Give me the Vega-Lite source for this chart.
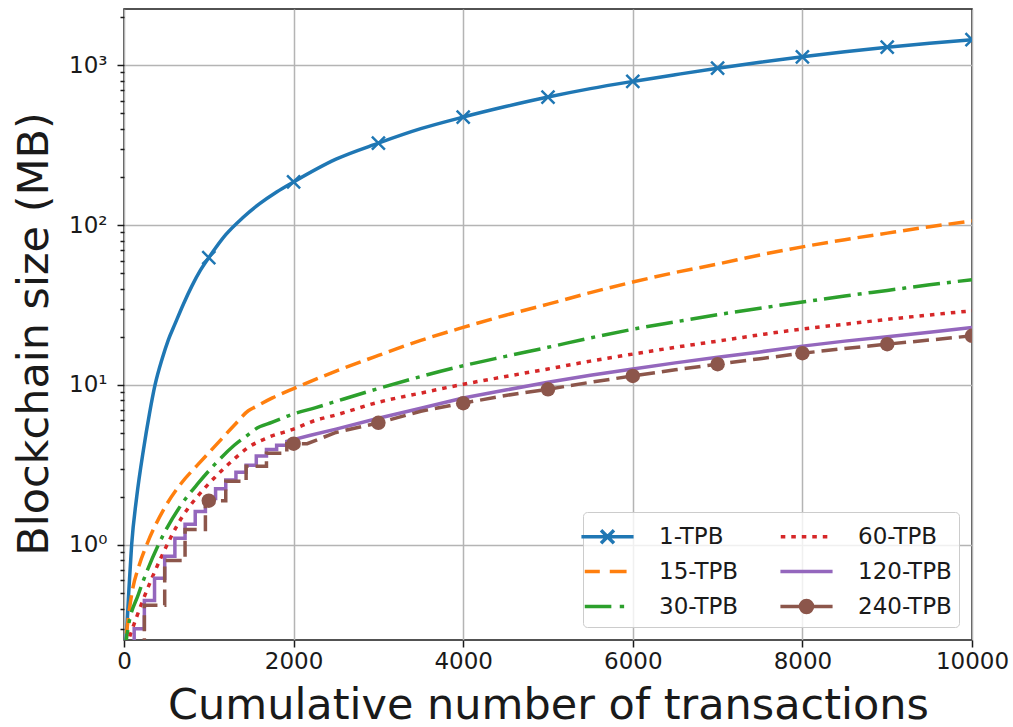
{
  "$schema": "https://vega.github.io/schema/vega-lite/v6.json",
  "width": 848,
  "height": 631,
  "autosize": "none",
  "padding": {"left": 124, "top": 9, "right": 41, "bottom": 87},
  "background": "white",
  "config": {
    "view": {"stroke": "#1a1a1a", "strokeWidth": 1.5},
    "font": "DejaVu Sans",
    "axis": {"labelFont": "DejaVu Sans", "titleFont": "DejaVu Sans"},
    "legend": {"labelFont": "DejaVu Sans"}
  },
  "resolve": {"legend": {"color": "independent", "shape": "independent"}},
  "datasets": {
    "lines": [
      {"series": "1-TPB", "n": 0, "value": 0.2},
      {"series": "1-TPB", "n": 25, "value": 0.26},
      {"series": "1-TPB", "n": 60, "value": 0.55},
      {"series": "1-TPB", "n": 90, "value": 1.0},
      {"series": "1-TPB", "n": 150, "value": 2.0},
      {"series": "1-TPB", "n": 228, "value": 3.9},
      {"series": "1-TPB", "n": 300, "value": 6.6},
      {"series": "1-TPB", "n": 366, "value": 10},
      {"series": "1-TPB", "n": 450, "value": 14.6},
      {"series": "1-TPB", "n": 522, "value": 19.1},
      {"series": "1-TPB", "n": 600, "value": 24},
      {"series": "1-TPB", "n": 700, "value": 32},
      {"series": "1-TPB", "n": 800, "value": 41.5},
      {"series": "1-TPB", "n": 900, "value": 52},
      {"series": "1-TPB", "n": 1000, "value": 62.5},
      {"series": "1-TPB", "n": 1200, "value": 87},
      {"series": "1-TPB", "n": 1400, "value": 111},
      {"series": "1-TPB", "n": 1600, "value": 136},
      {"series": "1-TPB", "n": 1800, "value": 161},
      {"series": "1-TPB", "n": 2000, "value": 186},
      {"series": "1-TPB", "n": 2500, "value": 258},
      {"series": "1-TPB", "n": 3000, "value": 325},
      {"series": "1-TPB", "n": 3500, "value": 400},
      {"series": "1-TPB", "n": 4000, "value": 473},
      {"series": "1-TPB", "n": 4500, "value": 550},
      {"series": "1-TPB", "n": 5000, "value": 631},
      {"series": "1-TPB", "n": 5500, "value": 712},
      {"series": "1-TPB", "n": 6000, "value": 790},
      {"series": "1-TPB", "n": 6500, "value": 870},
      {"series": "1-TPB", "n": 7000, "value": 955},
      {"series": "1-TPB", "n": 7500, "value": 1040},
      {"series": "1-TPB", "n": 8000, "value": 1125},
      {"series": "1-TPB", "n": 8500, "value": 1210},
      {"series": "1-TPB", "n": 9000, "value": 1292},
      {"series": "1-TPB", "n": 9500, "value": 1370},
      {"series": "1-TPB", "n": 10000, "value": 1440},

      {"series": "15-TPB", "n": 0, "value": 0.2},
      {"series": "15-TPB", "n": 32, "value": 0.29},
      {"series": "15-TPB", "n": 90, "value": 0.49},
      {"series": "15-TPB", "n": 180, "value": 0.75},
      {"series": "15-TPB", "n": 267, "value": 1.0},
      {"series": "15-TPB", "n": 483, "value": 1.72},
      {"series": "15-TPB", "n": 680, "value": 2.45},
      {"series": "15-TPB", "n": 876, "value": 3.2},
      {"series": "15-TPB", "n": 1100, "value": 4.3},
      {"series": "15-TPB", "n": 1300, "value": 5.6},
      {"series": "15-TPB", "n": 1466, "value": 6.9},
      {"series": "15-TPB", "n": 1550, "value": 7.3},
      {"series": "15-TPB", "n": 1750, "value": 8.3},
      {"series": "15-TPB", "n": 2000, "value": 9.5},
      {"series": "15-TPB", "n": 2500, "value": 12.2},
      {"series": "15-TPB", "n": 3000, "value": 15.3},
      {"series": "15-TPB", "n": 3500, "value": 19},
      {"series": "15-TPB", "n": 4000, "value": 22.9},
      {"series": "15-TPB", "n": 4500, "value": 27.3},
      {"series": "15-TPB", "n": 5000, "value": 32},
      {"series": "15-TPB", "n": 5500, "value": 37.8},
      {"series": "15-TPB", "n": 6000, "value": 44},
      {"series": "15-TPB", "n": 6500, "value": 50.5},
      {"series": "15-TPB", "n": 7000, "value": 57},
      {"series": "15-TPB", "n": 7500, "value": 65},
      {"series": "15-TPB", "n": 8000, "value": 73},
      {"series": "15-TPB", "n": 8500, "value": 81},
      {"series": "15-TPB", "n": 9000, "value": 89},
      {"series": "15-TPB", "n": 9500, "value": 97.5},
      {"series": "15-TPB", "n": 10000, "value": 106},

      {"series": "30-TPB", "n": 0, "value": 0.2},
      {"series": "30-TPB", "n": 51, "value": 0.31},
      {"series": "30-TPB", "n": 169, "value": 0.49},
      {"series": "30-TPB", "n": 405, "value": 1.0},
      {"series": "30-TPB", "n": 680, "value": 1.8},
      {"series": "30-TPB", "n": 880, "value": 2.45},
      {"series": "30-TPB", "n": 1073, "value": 3.2},
      {"series": "30-TPB", "n": 1300, "value": 4.2},
      {"series": "30-TPB", "n": 1466, "value": 4.9},
      {"series": "30-TPB", "n": 1550, "value": 5.3},
      {"series": "30-TPB", "n": 1750, "value": 5.85},
      {"series": "30-TPB", "n": 2000, "value": 6.6},
      {"series": "30-TPB", "n": 2252, "value": 7.2},
      {"series": "30-TPB", "n": 2500, "value": 7.9},
      {"series": "30-TPB", "n": 3000, "value": 9.5},
      {"series": "30-TPB", "n": 3500, "value": 11.3},
      {"series": "30-TPB", "n": 4000, "value": 13.2},
      {"series": "30-TPB", "n": 4500, "value": 15.1},
      {"series": "30-TPB", "n": 5000, "value": 17.2},
      {"series": "30-TPB", "n": 5500, "value": 19.7},
      {"series": "30-TPB", "n": 6000, "value": 22.3},
      {"series": "30-TPB", "n": 6500, "value": 24.8},
      {"series": "30-TPB", "n": 7000, "value": 27.5},
      {"series": "30-TPB", "n": 7500, "value": 30.2},
      {"series": "30-TPB", "n": 8000, "value": 33},
      {"series": "30-TPB", "n": 8500, "value": 36},
      {"series": "30-TPB", "n": 9000, "value": 39},
      {"series": "30-TPB", "n": 9500, "value": 42.3},
      {"series": "30-TPB", "n": 10000, "value": 45.5},

      {"series": "60-TPB", "n": 0, "value": 0.2},
      {"series": "60-TPB", "n": 60, "value": 0.26},
      {"series": "60-TPB", "n": 90, "value": 0.29},
      {"series": "60-TPB", "n": 208, "value": 0.43},
      {"series": "60-TPB", "n": 444, "value": 0.85},
      {"series": "60-TPB", "n": 680, "value": 1.48},
      {"series": "60-TPB", "n": 880, "value": 2.05},
      {"series": "60-TPB", "n": 1073, "value": 2.65},
      {"series": "60-TPB", "n": 1300, "value": 3.45},
      {"series": "60-TPB", "n": 1466, "value": 4.07},
      {"series": "60-TPB", "n": 1700, "value": 4.7},
      {"series": "60-TPB", "n": 2000, "value": 5.3},
      {"series": "60-TPB", "n": 2252, "value": 6.0},
      {"series": "60-TPB", "n": 2500, "value": 6.5},
      {"series": "60-TPB", "n": 3000, "value": 7.8},
      {"series": "60-TPB", "n": 3500, "value": 8.9},
      {"series": "60-TPB", "n": 4000, "value": 10.1},
      {"series": "60-TPB", "n": 4500, "value": 11.3},
      {"series": "60-TPB", "n": 5000, "value": 12.6},
      {"series": "60-TPB", "n": 5500, "value": 14.1},
      {"series": "60-TPB", "n": 6000, "value": 15.6},
      {"series": "60-TPB", "n": 6500, "value": 17.2},
      {"series": "60-TPB", "n": 7000, "value": 18.8},
      {"series": "60-TPB", "n": 7500, "value": 20.6},
      {"series": "60-TPB", "n": 8000, "value": 22.4},
      {"series": "60-TPB", "n": 8500, "value": 24},
      {"series": "60-TPB", "n": 9000, "value": 25.7},
      {"series": "60-TPB", "n": 9500, "value": 27.4},
      {"series": "60-TPB", "n": 10000, "value": 29.1},

      {"series": "120-TPB", "k": 0, "n": 0, "value": 0.2},
      {"series": "120-TPB", "k": 1, "n": 120, "value": 0.2},
      {"series": "120-TPB", "k": 2, "n": 120, "value": 0.3},
      {"series": "120-TPB", "k": 3, "n": 240, "value": 0.3},
      {"series": "120-TPB", "k": 4, "n": 240, "value": 0.45},
      {"series": "120-TPB", "k": 5, "n": 360, "value": 0.45},
      {"series": "120-TPB", "k": 6, "n": 360, "value": 0.62},
      {"series": "120-TPB", "k": 7, "n": 480, "value": 0.62},
      {"series": "120-TPB", "k": 8, "n": 480, "value": 0.85},
      {"series": "120-TPB", "k": 9, "n": 600, "value": 0.85},
      {"series": "120-TPB", "k": 10, "n": 600, "value": 1.1},
      {"series": "120-TPB", "k": 11, "n": 720, "value": 1.1},
      {"series": "120-TPB", "k": 12, "n": 720, "value": 1.35},
      {"series": "120-TPB", "k": 13, "n": 840, "value": 1.35},
      {"series": "120-TPB", "k": 14, "n": 840, "value": 1.62},
      {"series": "120-TPB", "k": 15, "n": 960, "value": 1.62},
      {"series": "120-TPB", "k": 16, "n": 960, "value": 1.95},
      {"series": "120-TPB", "k": 17, "n": 1080, "value": 1.95},
      {"series": "120-TPB", "k": 18, "n": 1080, "value": 2.25},
      {"series": "120-TPB", "k": 19, "n": 1200, "value": 2.25},
      {"series": "120-TPB", "k": 20, "n": 1200, "value": 2.55},
      {"series": "120-TPB", "k": 21, "n": 1320, "value": 2.55},
      {"series": "120-TPB", "k": 22, "n": 1320, "value": 2.85},
      {"series": "120-TPB", "k": 23, "n": 1440, "value": 2.85},
      {"series": "120-TPB", "k": 24, "n": 1440, "value": 3.15},
      {"series": "120-TPB", "k": 25, "n": 1560, "value": 3.15},
      {"series": "120-TPB", "k": 26, "n": 1560, "value": 3.6},
      {"series": "120-TPB", "k": 27, "n": 1680, "value": 3.6},
      {"series": "120-TPB", "k": 28, "n": 1680, "value": 3.95},
      {"series": "120-TPB", "k": 29, "n": 1800, "value": 3.95},
      {"series": "120-TPB", "k": 30, "n": 1800, "value": 4.2},
      {"series": "120-TPB", "k": 31, "n": 1920, "value": 4.2},
      {"series": "120-TPB", "k": 32, "n": 1920, "value": 4.45},
      {"series": "120-TPB", "k": 33, "n": 2200, "value": 4.85},
      {"series": "120-TPB", "k": 34, "n": 2500, "value": 5.3},
      {"series": "120-TPB", "k": 35, "n": 3000, "value": 6.2},
      {"series": "120-TPB", "k": 36, "n": 3500, "value": 7.15},
      {"series": "120-TPB", "k": 37, "n": 4000, "value": 8.3},
      {"series": "120-TPB", "k": 38, "n": 4500, "value": 9.3},
      {"series": "120-TPB", "k": 39, "n": 5000, "value": 10.4},
      {"series": "120-TPB", "k": 40, "n": 5500, "value": 11.5},
      {"series": "120-TPB", "k": 41, "n": 6000, "value": 12.6},
      {"series": "120-TPB", "k": 42, "n": 6500, "value": 13.75},
      {"series": "120-TPB", "k": 43, "n": 7000, "value": 14.9},
      {"series": "120-TPB", "k": 44, "n": 7500, "value": 16.1},
      {"series": "120-TPB", "k": 45, "n": 8000, "value": 17.5},
      {"series": "120-TPB", "k": 46, "n": 8500, "value": 18.8},
      {"series": "120-TPB", "k": 47, "n": 9000, "value": 20.05},
      {"series": "120-TPB", "k": 48, "n": 9500, "value": 21.4},
      {"series": "120-TPB", "k": 49, "n": 10000, "value": 22.9},

      {"series": "240-TPB", "k": 0, "n": 0, "value": 0.2},
      {"series": "240-TPB", "k": 1, "n": 240, "value": 0.2},
      {"series": "240-TPB", "k": 2, "n": 240, "value": 0.42},
      {"series": "240-TPB", "k": 3, "n": 480, "value": 0.42},
      {"series": "240-TPB", "k": 4, "n": 480, "value": 0.8},
      {"series": "240-TPB", "k": 5, "n": 720, "value": 0.8},
      {"series": "240-TPB", "k": 6, "n": 720, "value": 1.25},
      {"series": "240-TPB", "k": 7, "n": 960, "value": 1.25},
      {"series": "240-TPB", "k": 8, "n": 960, "value": 1.89},
      {"series": "240-TPB", "k": 9, "n": 1200, "value": 1.89},
      {"series": "240-TPB", "k": 10, "n": 1200, "value": 2.5},
      {"series": "240-TPB", "k": 11, "n": 1440, "value": 2.5},
      {"series": "240-TPB", "k": 12, "n": 1440, "value": 3.1},
      {"series": "240-TPB", "k": 13, "n": 1680, "value": 3.1},
      {"series": "240-TPB", "k": 14, "n": 1680, "value": 3.75},
      {"series": "240-TPB", "k": 15, "n": 1920, "value": 3.75},
      {"series": "240-TPB", "k": 16, "n": 1920, "value": 4.3},
      {"series": "240-TPB", "k": 17, "n": 2160, "value": 4.3},
      {"series": "240-TPB", "k": 18, "n": 2500, "value": 5.05},
      {"series": "240-TPB", "k": 19, "n": 3000, "value": 5.8},
      {"series": "240-TPB", "k": 20, "n": 3500, "value": 6.85},
      {"series": "240-TPB", "k": 21, "n": 4000, "value": 7.7},
      {"series": "240-TPB", "k": 22, "n": 4500, "value": 8.6},
      {"series": "240-TPB", "k": 23, "n": 5000, "value": 9.4},
      {"series": "240-TPB", "k": 24, "n": 5500, "value": 10.4},
      {"series": "240-TPB", "k": 25, "n": 6000, "value": 11.4},
      {"series": "240-TPB", "k": 26, "n": 6500, "value": 12.45},
      {"series": "240-TPB", "k": 27, "n": 7000, "value": 13.5},
      {"series": "240-TPB", "k": 28, "n": 7500, "value": 14.6},
      {"series": "240-TPB", "k": 29, "n": 8000, "value": 15.8},
      {"series": "240-TPB", "k": 30, "n": 8500, "value": 16.9},
      {"series": "240-TPB", "k": 31, "n": 9000, "value": 18.0},
      {"series": "240-TPB", "k": 32, "n": 9500, "value": 19.1},
      {"series": "240-TPB", "k": 33, "n": 10000, "value": 20.3}
    ],
    "markers": [
      {"series": "1-TPB", "n": 1000, "value": 62.5},
      {"series": "1-TPB", "n": 2000, "value": 186},
      {"series": "1-TPB", "n": 3000, "value": 325},
      {"series": "1-TPB", "n": 4000, "value": 473},
      {"series": "1-TPB", "n": 5000, "value": 631},
      {"series": "1-TPB", "n": 6000, "value": 790},
      {"series": "1-TPB", "n": 7000, "value": 955},
      {"series": "1-TPB", "n": 8000, "value": 1125},
      {"series": "1-TPB", "n": 9000, "value": 1292},
      {"series": "1-TPB", "n": 10000, "value": 1440},
      {"series": "240-TPB", "n": 1000, "value": 1.89},
      {"series": "240-TPB", "n": 2000, "value": 4.3},
      {"series": "240-TPB", "n": 3000, "value": 5.8},
      {"series": "240-TPB", "n": 4000, "value": 7.7},
      {"series": "240-TPB", "n": 5000, "value": 9.4},
      {"series": "240-TPB", "n": 6000, "value": 11.4},
      {"series": "240-TPB", "n": 7000, "value": 13.5},
      {"series": "240-TPB", "n": 8000, "value": 15.8},
      {"series": "240-TPB", "n": 9000, "value": 18.0},
      {"series": "240-TPB", "n": 10000, "value": 20.3}
    ]
  },
  "encoding": {
    "x": {
      "field": "n",
      "type": "quantitative",
      "scale": {"domain": [0, 10000], "nice": false, "zero": false},
      "axis": {
        "values": [0, 2000, 4000, 6000, 8000, 10000],
        "format": "d",
        "labelFontSize": 23,
        "labelColor": "#1a1a1a",
        "labelPadding": 3,
        "labelFlush": false,
        "labelOverlap": false,
        "tickSize": 7,
        "tickWidth": 1.5,
        "tickColor": "#1a1a1a",
        "domain": false,
        "grid": true,
        "gridColor": "#b4b4b4",
        "gridWidth": 1.5,
        "title": "Cumulative number of transactions",
        "titleFontSize": 43,
        "titleFontWeight": "normal",
        "titleColor": "#1a1a1a",
        "titleX": 424,
        "titleY": 78,
        "titleAlign": "center",
        "titleBaseline": "alphabetic"
      }
    },
    "y": {
      "field": "value",
      "type": "quantitative",
      "scale": {"type": "log", "domain": [0.2547, 2240], "nice": false},
      "axis": {
        "values": [0.3, 0.4, 0.5, 0.6, 0.7, 0.8, 0.9, 1, 2, 3, 4, 5, 6, 7, 8, 9, 10, 20, 30, 40, 50, 60, 70, 80, 90, 100, 200, 300, 400, 500, 600, 700, 800, 900, 1000, 2000],
        "labelExpr": "datum.value == 1 ? '10⁰' : datum.value == 10 ? '10¹' : datum.value == 100 ? '10²' : datum.value == 1000 ? '10³' : ''",
        "labelFontSize": 23,
        "labelColor": "#1a1a1a",
        "labelPadding": 10,
        "labelOverlap": false,
        "labelFlush": false,
        "tickSize": {"condition": {"test": "datum.value == 1 || datum.value == 10 || datum.value == 100 || datum.value == 1000", "value": 7}, "value": 4},
        "tickWidth": 1.5,
        "tickColor": "#1a1a1a",
        "domain": false,
        "grid": true,
        "gridColor": "#b4b4b4",
        "gridWidth": 1.5,
        "gridOpacity": {"condition": {"test": "datum.value == 1 || datum.value == 10 || datum.value == 100 || datum.value == 1000", "value": 1}, "value": 0},
        "title": "Blockchain size (MB)",
        "titleFontSize": 43,
        "titleFontWeight": "normal",
        "titleColor": "#1a1a1a",
        "titleAngle": -90,
        "titleX": -77,
        "titleY": 324.5,
        "titleAlign": "center",
        "titleBaseline": "alphabetic"
      }
    },
    "color": {
      "field": "series",
      "type": "nominal",
      "scale": {
        "domain": ["1-TPB", "15-TPB", "30-TPB", "60-TPB", "120-TPB", "240-TPB"],
        "range": ["#1f77b4", "#ff7f0e", "#2ca02c", "#d62728", "#9467bd", "#8c564b"]
      },
      "legend": null
    }
  },
  "layer": [
    {
      "data": {"name": "lines"},
      "transform": [{"filter": {"field": "series", "equal": "1-TPB"}}],
      "mark": {"type": "line", "clip": true, "strokeWidth": 3.5, "interpolate": "monotone"}
    },
    {
      "data": {"name": "lines"},
      "transform": [{"filter": {"field": "series", "equal": "15-TPB"}}],
      "mark": {"type": "line", "clip": true, "strokeWidth": 3.5, "interpolate": "monotone", "strokeDash": [16, 7]}
    },
    {
      "data": {"name": "lines"},
      "transform": [{"filter": {"field": "series", "equal": "30-TPB"}}],
      "mark": {"type": "line", "clip": true, "strokeWidth": 3.5, "interpolate": "monotone", "strokeDash": [27, 7, 4, 7]}
    },
    {
      "data": {"name": "lines"},
      "transform": [{"filter": {"field": "series", "equal": "60-TPB"}}],
      "mark": {"type": "line", "clip": true, "strokeWidth": 3.5, "interpolate": "monotone", "strokeDash": [4.5, 6]}
    },
    {
      "data": {"name": "lines"},
      "transform": [{"filter": {"field": "series", "equal": "120-TPB"}}],
      "mark": {"type": "line", "clip": true, "strokeWidth": 3.5},
      "encoding": {"order": {"field": "k", "type": "quantitative"}}
    },
    {
      "data": {"name": "lines"},
      "transform": [{"filter": {"field": "series", "equal": "240-TPB"}}],
      "mark": {"type": "line", "clip": true, "strokeWidth": 3.5, "strokeDash": [16, 7]},
      "encoding": {"order": {"field": "k", "type": "quantitative"}}
    },
    {
      "data": {"name": "markers"},
      "transform": [{"filter": {"field": "series", "equal": "1-TPB"}}],
      "mark": {"type": "point", "clip": true, "shape": "M-1,-1L1,1M-1,1L1,-1", "size": 169, "strokeWidth": 2.5, "filled": false, "opacity": 1}
    },
    {
      "data": {"name": "markers"},
      "transform": [{"filter": {"field": "series", "equal": "240-TPB"}}],
      "mark": {"type": "point", "clip": true, "shape": "circle", "size": 210, "filled": true, "opacity": 1}
    },
    {
      "data": {"name": "lines"},
      "transform": [{"filter": "datum.n == 0"}],
      "mark": {"type": "point", "clip": true, "filled": false, "opacity": 1, "size": 1225, "strokeWidth": 3.5},
      "encoding": {
        "color": {
          "field": "series",
          "type": "nominal",
          "scale": {
            "domain": ["1-TPB", "15-TPB", "30-TPB", "60-TPB", "120-TPB", "240-TPB"],
            "range": ["#1f77b4", "#ff7f0e", "#2ca02c", "#d62728", "#9467bd", "#8c564b"]
          },
          "legend": {
            "title": null, "orient": "none", "legendX": 459, "legendY": 503, "columns": 2,
            "symbolSize": 1225, "symbolStrokeWidth": 3.5, "symbolOpacity": 1,
            "labelFontSize": 23, "labelColor": "#1a1a1a", "labelOffset": 32, "labelLimit": 300,
            "labelExpr": "(datum.label == '1-TPB' || datum.label == '60-TPB') ? datum.label + '\u2800' : datum.label",
            "columnPadding": 18, "rowPadding": 0, "padding": 5, "gridAlign": "all",
            "fillColor": "rgba(255,255,255,0.8)", "strokeColor": "#cccccc", "cornerRadius": 4
          }
        },
        "shape": {
          "field": "series",
          "type": "nominal",
          "scale": {
            "domain": ["1-TPB", "15-TPB", "30-TPB", "60-TPB", "120-TPB", "240-TPB"],
            "range": [
              "M-1.49,-0.45M1.49,0.45M-1.49,0H1.49M-0.37,-0.37L0.37,0.37M-0.37,0.37L0.37,-0.37",
              "M-1.49,-0.45M1.49,0.45M-1.3,0H-0.44M0.13,0H1.09",
              "M-1.49,-0.45M1.49,0.45M-1.3,0H0.22M0.7,0H0.95",
              "M-1.49,-0.45M1.49,0.45M-1.47,0H-1.21M-0.87,0H-0.61M-0.27,0H-0.01M0.33,0H0.59M0.93,0H1.19",
              "M-1.49,-0.45M1.49,0.45M-1.49,0H1.49",
              "M-1.49,-0.45M1.49,0.45M-1.49,0H1.49M-0.343,0A0.343,0.343,0,1,0,0.343,0A0.343,0.343,0,1,0,-0.343,0M-0.17,0A0.17,0.17,0,1,0,0.17,0A0.17,0.17,0,1,0,-0.17,0M-0.05,0A0.05,0.05,0,1,0,0.05,0A0.05,0.05,0,1,0,-0.05,0"
            ]
          },
          "legend": {
            "title": null, "orient": "none", "legendX": 459, "legendY": 503, "columns": 2,
            "symbolSize": 1225, "symbolStrokeWidth": 3.5, "symbolOpacity": 1,
            "labelFontSize": 23, "labelColor": "#1a1a1a", "labelOffset": 32, "labelLimit": 300,
            "labelExpr": "(datum.label == '1-TPB' || datum.label == '60-TPB') ? datum.label + '\u2800' : datum.label",
            "columnPadding": 18, "rowPadding": 0, "padding": 5, "gridAlign": "all",
            "fillColor": "rgba(255,255,255,0.8)", "strokeColor": "#cccccc", "cornerRadius": 4
          }
        }
      }
    }
  ]
}
